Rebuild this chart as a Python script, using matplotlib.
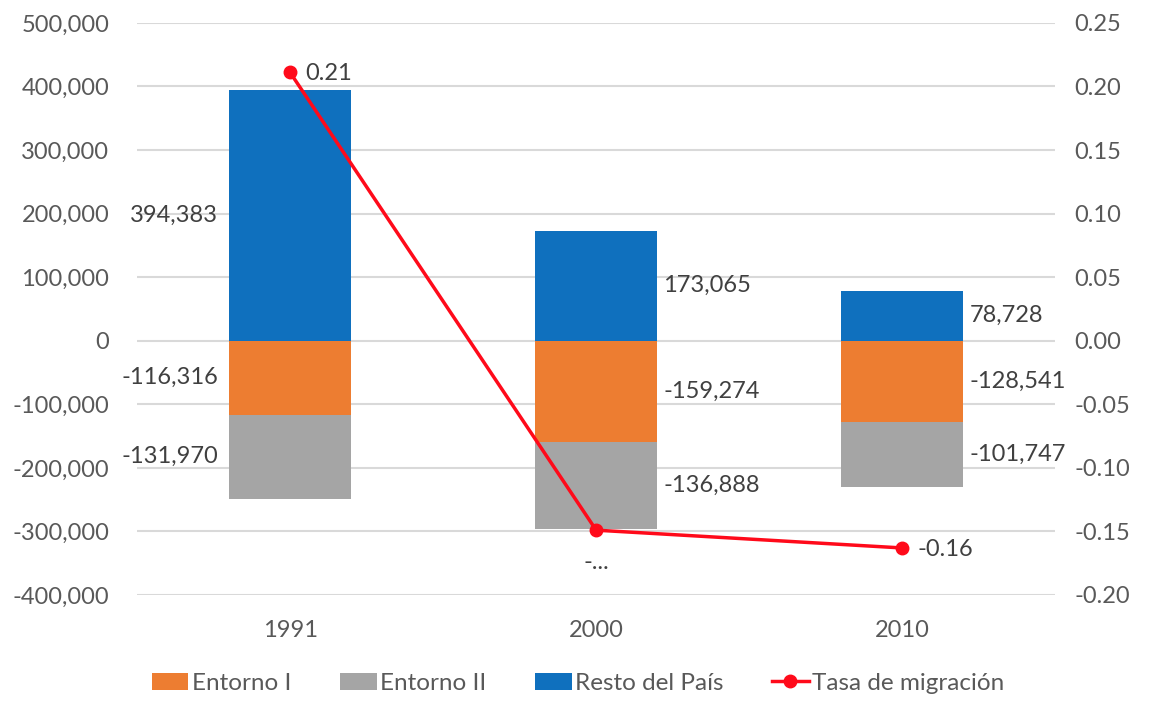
import matplotlib.pyplot as plt
import matplotlib.ticker as mticker

years = ['1991', '2000', '2010']
entorno_1 = [-116316, -159274, -128541]
entorno_2 = [-131970, -136888, -101747]
resto_pais = [394383, 173065, 78728]
tasa = [0.211, -0.149, -0.163]
tasa_labels = ['0.21', '-...', '-0.16']

plt.rcParams['font.family'] = ['Lato', 'DejaVu Sans']


def main():
    fig = plt.figure(figsize=(11.52, 7.16), dpi=100)
    ax = fig.add_axes([0.119, 0.169, 0.797, 0.799])
    ax2 = ax.twinx()

    x = range(len(years))
    w = 0.4
    ax.bar(x, entorno_1, w, color='#ED7D31', label='Entorno I', zorder=2)
    ax.bar(x, entorno_2, w, bottom=entorno_1, color='#A5A5A5', label='Entorno II', zorder=2)
    ax.bar(x, resto_pais, w, color='#0F70BE', label='Resto del País', zorder=2)

    ax.set_ylim(-400000, 500000)
    ax.set_xlim(-0.5, 2.5)
    ax.yaxis.set_major_locator(mticker.MultipleLocator(100000))
    ax.yaxis.set_major_formatter(mticker.FuncFormatter(lambda v, p: f'{v:,.0f}'))
    ax.grid(axis='y', color='#D9D9D9', linewidth=1.5, zorder=0)
    ax.set_axisbelow(True)
    ax.set_xticks(list(x))
    ax.set_xticklabels(years)

    ax2.set_ylim(-0.20, 0.25)
    ax2.yaxis.set_major_locator(mticker.MultipleLocator(0.05))
    ax2.yaxis.set_major_formatter(mticker.FuncFormatter(lambda v, p: f'{v:.2f}'))
    line, = ax2.plot(x, tasa, color='#FF0A1A', linewidth=2.5, marker='o',
                     markersize=9, label='Tasa de migración', zorder=5)

    for a in (ax, ax2):
        for s in a.spines.values():
            s.set_visible(False)
        a.tick_params(length=0, labelsize=17, labelcolor='#595959')
    ax.tick_params(axis='x', pad=18)
    ax.tick_params(axis='y', pad=20)
    ax2.tick_params(axis='y', pad=14)

    lab = dict(fontsize=17, color='#404040', va='center')
    # data labels for bars: left for first year, right otherwise
    for i in x:
        mid_b = resto_pais[i] / 2
        mid_o = entorno_1[i] / 2
        mid_g = entorno_1[i] + entorno_2[i] / 2
        if i == 0:
            xp, ha = i - w / 2 - 0.035, 'right'
        else:
            xp, ha = i + w / 2 + 0.02, 'left'
        ax.text(xp, mid_b, f'{resto_pais[i]:,}', ha=ha, **lab)
        ax.text(xp, mid_o, f'{entorno_1[i]:,}', ha=ha, **lab)
        ax.text(xp, mid_g, f'{entorno_2[i]:,}', ha=ha, **lab)

    ax2.annotate(tasa_labels[0], (0, tasa[0]), xytext=(11, -1), textcoords='offset points',
                 ha='left', **lab)
    ax2.annotate(tasa_labels[1], (1, tasa[1]), xytext=(0, -23), textcoords='offset points',
                 ha='center', **lab)
    ax2.annotate(tasa_labels[2], (2, tasa[2]), xytext=(11, -1), textcoords='offset points',
                 ha='left', **lab)

    h1, l1 = ax.get_legend_handles_labels()
    leg = fig.legend(h1 + [line], l1 + ['Tasa de migración'], loc='center',
                     bbox_to_anchor=(0.502, 0.046), ncol=4, frameon=False,
                     fontsize=17.5, handlelength=1.5, handletextpad=0.15,
                     columnspacing=2.0)
    for t in leg.get_texts():
        t.set_color('#595959')

    fig.savefig('out.png', dpi=100)


if __name__ == '__main__':
    main()
